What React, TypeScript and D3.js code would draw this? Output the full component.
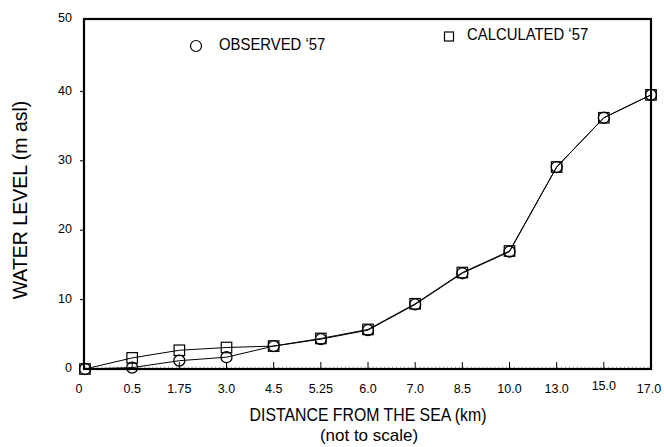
import React, { useRef, useEffect } from 'react';
import * as d3 from 'd3';

// Distance categories (km) - plotted evenly, not to scale
const distances = ['0', '0.5', '1.75', '3.0', '4.5', '5.25', '6.0', '7.0', '8.5', '10.0', '13.0', '15.0', '17.0'];
// Water level (m asl)
const observed57 = [0, 0.2, 1.2, 1.7, 3.3, 4.3, 5.6, 9.3, 13.8, 16.9, 29.1, 36.2, 39.5];
const calculated57 = [0, 1.6, 2.7, 3.1, 3.3, 4.4, 5.7, 9.4, 13.9, 17.0, 29.1, 36.2, 39.5];
const yTicks = [0, 10, 20, 30, 40, 50];

const App = () => {
  const ref = useRef<SVGSVGElement>(null);

  useEffect(() => {
    const width = 664;
    const height = 447;
    const svg = d3.select(ref.current)
      .attr('width', width)
      .attr('height', height)
      .style('font-family', '"Liberation Sans", Arial, sans-serif');
    svg.selectAll('*').remove();

    const left = 84, right = 651, top = 19, bottom = 369;

    const x = d3.scalePoint<string>()
      .domain(distances)
      .range([85, 651])
      .padding(0);

    const y = d3.scaleLinear()
      .domain([0, 50])
      .range([bottom, 22]);

    // minor ticks along the bottom axis
    const step = x.step();
    const minor = d3.range(left + 2, right - 2, step / 12);
    svg.append('g')
      .selectAll('line')
      .data(minor)
      .enter().append('line')
      .attr('x1', d => d).attr('x2', d => d)
      .attr('y1', bottom).attr('y2', bottom - 2.5)
      .attr('stroke', '#888')
      .attr('stroke-width', 0.7);

    // major x ticks (inside)
    svg.append('g')
      .selectAll('line')
      .data(distances.slice(1, -1))
      .enter().append('line')
      .attr('x1', d => x(d)!).attr('x2', d => x(d)!)
      .attr('y1', bottom).attr('y2', bottom - 7)
      .attr('stroke', '#000')
      .attr('stroke-width', 1);

    // x tick labels
    svg.append('g')
      .selectAll('text')
      .data(distances)
      .enter().append('text')
      .attr('x', (d, i) => i === 0 ? x(d)! - 6 : (i === distances.length - 1 ? x(d)! - 2 : x(d)!))
      .attr('y', (d, i) => i === distances.length - 2 ? 387 : 390)
      .attr('text-anchor', 'middle')
      .attr('dominant-baseline', 'middle')
      .attr('font-size', 12.5)
      .text(d => d);

    // y ticks (outside) and labels
    const yg = svg.append('g');
    yg.selectAll('line')
      .data(yTicks.slice(1, -1))
      .enter().append('line')
      .attr('x1', left - 4).attr('x2', left)
      .attr('y1', d => y(d)).attr('y2', d => y(d))
      .attr('stroke', '#000');
    yg.selectAll('text')
      .data(yTicks)
      .enter().append('text')
      .attr('x', 72)
      .attr('y', d => d === 50 ? top : y(d))
      .attr('text-anchor', 'end')
      .attr('dominant-baseline', 'middle')
      .attr('font-size', 12.5)
      .text(d => d);

    // frame
    svg.append('rect')
      .attr('x', left).attr('y', top)
      .attr('width', right - left).attr('height', bottom - top)
      .attr('fill', 'none')
      .attr('stroke', '#000')
      .attr('stroke-width', 2.2);

    const line = d3.line<number>()
      .x((d, i) => x(distances[i])!)
      .y(d => y(d));

    [observed57, calculated57].forEach(series => {
      svg.append('path')
        .datum(series)
        .attr('d', line)
        .attr('fill', 'none')
        .attr('stroke', '#000')
        .attr('stroke-width', 1);
    });

    // observed markers: circles
    svg.append('g')
      .selectAll('circle')
      .data(observed57)
      .enter().append('circle')
      .attr('cx', (d, i) => x(distances[i])!)
      .attr('cy', d => y(d))
      .attr('r', 5.5)
      .attr('fill', 'none')
      .attr('stroke', '#000')
      .attr('stroke-width', 1.3);

    // calculated markers: squares
    const s = 10.5;
    svg.append('g')
      .selectAll('rect')
      .data(calculated57)
      .enter().append('rect')
      .attr('x', (d, i) => x(distances[i])! - s / 2)
      .attr('y', d => y(d) - s / 2)
      .attr('width', s).attr('height', s)
      .attr('fill', 'none')
      .attr('stroke', '#000')
      .attr('stroke-width', 1.2);

    // legend
    svg.append('circle')
      .attr('cx', 196).attr('cy', 46).attr('r', 5.5)
      .attr('fill', 'none').attr('stroke', '#000').attr('stroke-width', 1.2);
    svg.append('text')
      .attr('transform', 'translate(219,46) scale(0.93,1)')
      .attr('dominant-baseline', 'middle')
      .attr('font-size', 16)
      .text('OBSERVED \u201857');
    svg.append('rect')
      .attr('x', 444.5).attr('y', 32).attr('width', 9).attr('height', 9)
      .attr('fill', 'none').attr('stroke', '#000').attr('stroke-width', 1.2);
    svg.append('text')
      .attr('transform', 'translate(467,36) scale(0.93,1)')
      .attr('dominant-baseline', 'middle')
      .attr('font-size', 16)
      .text('CALCULATED \u201857');

    // axis titles
    svg.append('text')
      .attr('transform', 'translate(22,200) rotate(-90)')
      .attr('text-anchor', 'middle')
      .attr('dominant-baseline', 'middle')
      .attr('font-size', 19.5)
      .text('WATER LEVEL (m asl)');
    svg.append('text')
      .attr('transform', 'translate(368,416) scale(0.88,1)')
      .attr('text-anchor', 'middle')
      .attr('dominant-baseline', 'middle')
      .attr('font-size', 18)
      .text('DISTANCE FROM THE SEA (km)');
    svg.append('text')
      .attr('transform', 'translate(369,436.5)')
      .attr('text-anchor', 'middle')
      .attr('dominant-baseline', 'middle')
      .attr('font-size', 17)
      .text('(not to scale)');
  }, []);

  return (
    <svg ref={ref} style={{ position: 'absolute', left: 0, top: 0, background: '#fff' }}></svg>
  );
};

export default App;
